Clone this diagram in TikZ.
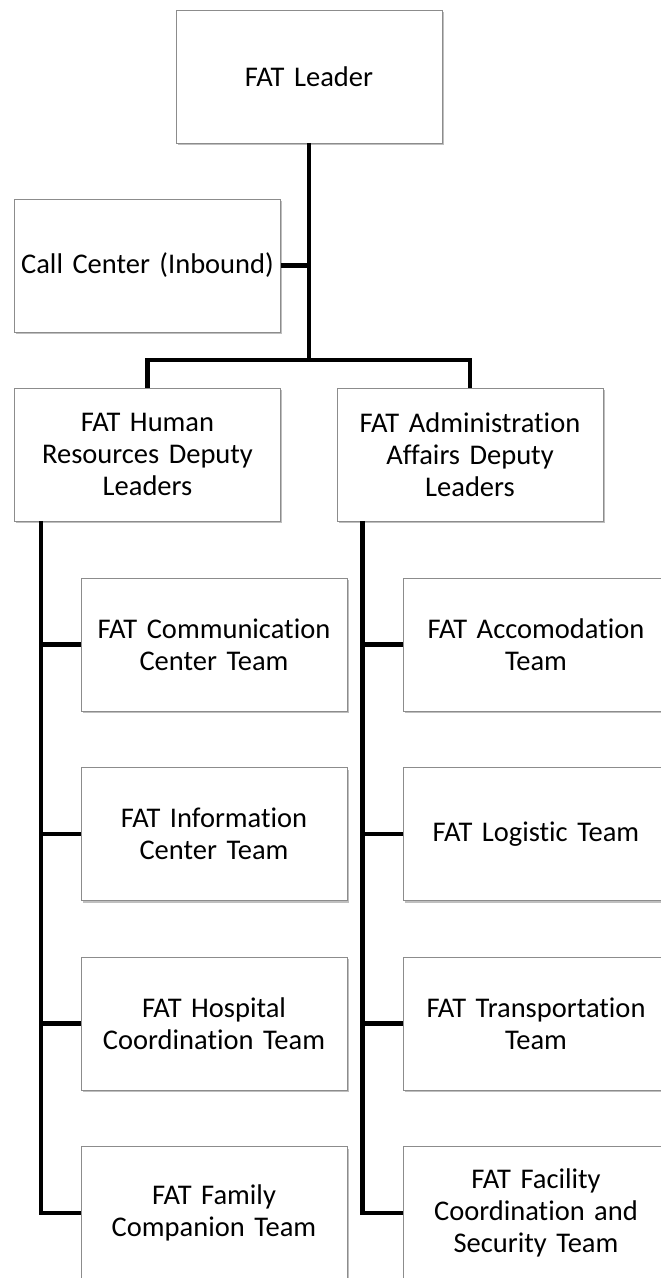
\documentclass[tikz,border=0pt]{standalone}
\usepackage{fontspec}
\setmainfont[Ligatures=NoCommon]{Carlito}
\usetikzlibrary{shadows}
\begin{document}
\begin{tikzpicture}[x=1pt,y=1pt,
  box/.style={draw=black!45, line width=0.9pt, fill=white, align=center,
    minimum width=266pt, minimum height=133pt, inner sep=4pt,
    text width=258pt, font=\fontsize{28.5}{32}\selectfont,
    drop shadow={shadow xshift=1.5pt, shadow yshift=-2pt, opacity=0.25, fill=black}},
  link/.style={line width=4.6pt, line join=miter, draw=black}]
\clip (0,0) rectangle (661,-1278);
\useasboundingbox (0,0) rectangle (661,-1278);
\fill[white] (0,0) rectangle (661,-1278);
% nodes
\node[box] (leader) at (309,-76.5) {FAT Leader};
\node[box] (call) at (147.5,-265.5) {Call Center (Inbound)};
\node[box] (hr) at (147.5,-454.5) {FAT Human\\Resources Deputy\\Leaders};
\node[box] (admin) at (470,-454.5) {FAT Administration\\Affairs Deputy\\Leaders};
\node[box] (l1) at (214,-644.5) {FAT Communication\\Center Team};
\node[box] (l2) at (214,-834) {FAT Information\\Center Team};
\node[box] (l3) at (214,-1023.5) {FAT Hospital\\Coordination Team};
\node[box] (l4) at (214,-1213) {FAT Family\\Companion Team};
\node[box] (r1) at (536,-644.5) {FAT Accomodation\\Team};
\node[box] (r2) at (536,-834) {FAT Logistic Team};
\node[box] (r3) at (536,-1023.5) {FAT Transportation\\Team};
\node[box] (r4) at (536,-1213) {FAT Facility\\Coordination and\\Security Team};
% connectors
\coordinate (bar) at (309,-360);
\draw[link] (leader.south) -- (bar);
\draw[link] (call.east) -- (call.east -| bar);
\draw[link] (hr.north) |- (bar) -| (admin.north);
\coordinate (lv) at ([xshift=27pt]hr.south west);
\coordinate (rv) at ([xshift=26pt]admin.south west);
\draw[link] (lv) |- (l4.west);
\draw[link] (rv) |- (r4.west);
\foreach \n in {l1,l2,l3} \draw[link] (\n.west) -- (\n.west -| lv);
\foreach \n in {r1,r2,r3} \draw[link] (\n.west) -- (\n.west -| rv);
\end{tikzpicture}
\end{document}
